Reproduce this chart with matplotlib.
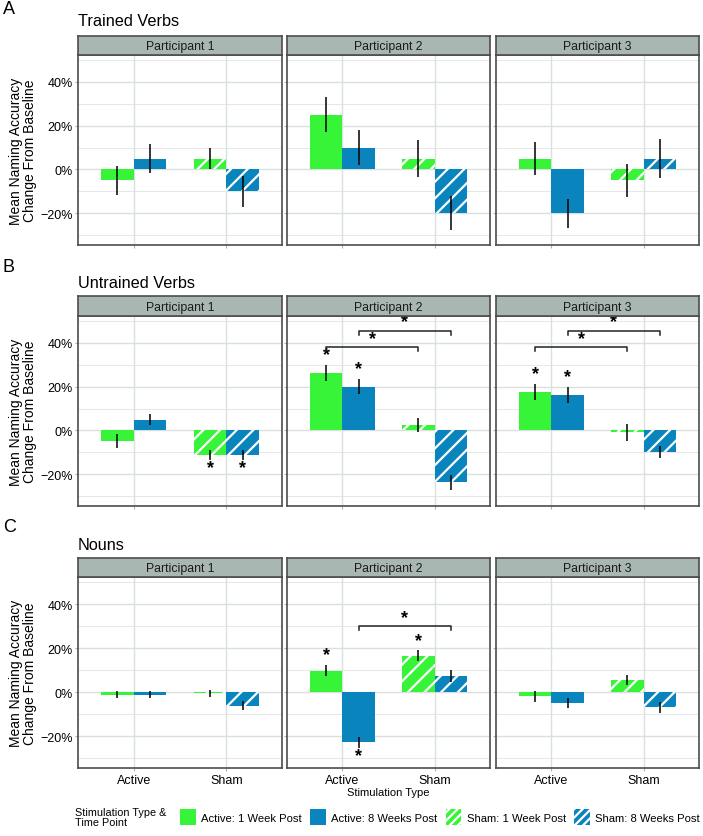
import numpy as np
import matplotlib
matplotlib.use('Agg')
import matplotlib.pyplot as plt
from matplotlib.patches import Patch

plt.rcParams['font.family'] = ['Liberation Sans', 'DejaVu Sans']
plt.rcParams['hatch.linewidth'] = 1.6

# ---- data (percent change from baseline) ----
participants = ['Participant 1', 'Participant 2', 'Participant 3']
stim_types = ['Active', 'Sham']
groups = ['Active: 1 Week Post', 'Active: 8 Weeks Post',
          'Sham: 1 Week Post', 'Sham: 8 Weeks Post']
row_titles = ['Trained Verbs', 'Untrained Verbs', 'Nouns']
row_letters = ['A', 'B', 'C']

# rows = participant, cols = group
trained_mean = [[-5, 5, 5, -10], [25, 10, 5, -20], [5, -20, -5, 5]]
trained_err = [[6.5, 6.5, 5, 7], [8, 8, 8.5, 7.7], [7.5, 6.7, 7.6, 8.7]]
untrained_mean = [[-4.8, 5, -11.2, -11.2], [26.2, 20, 2.5, -23.7], [17.4, 16.2, -0.9, -9.8]]
untrained_err = [[3.4, 2.7, 2.3, 2.3], [3.7, 3.4, 3.4, 3.5], [3.7, 3.6, 3.8, 2.9]]
nouns_mean = [[-1.2, -1.2, -0.6, -6.2], [9.8, -22.8, 16.4, 7.4], [-2, -5, 5.5, -7]]
nouns_err = [[1.7, 1.7, 1.6, 2], [2.7, 2.4, 2.5, 2.7], [2.3, 2.3, 2.4, 2.5]]

means = [trained_mean, untrained_mean, nouns_mean]
errs = [trained_err, untrained_err, nouns_err]

# significant single bars: (row, participant, group)
bar_stars = [(1, 0, 2), (1, 0, 3), (1, 1, 0), (1, 1, 1), (1, 2, 0), (1, 2, 1),
             (2, 1, 0), (2, 1, 1), (2, 1, 2)]
# comparison brackets: (row, participant, group a, group b, height %)
brackets = [(1, 1, 0, 2, 38), (1, 1, 1, 3, 45.5),
            (1, 2, 0, 2, 38), (1, 2, 1, 3, 45.5),
            (2, 1, 1, 3, 30)]

colors = ['#38F438', '#0A84BD', '#38F438', '#0A84BD']
hatches = [None, None, '//', '//']

W, H = 703, 837
fig = plt.figure(figsize=(W / 100, H / 100), dpi=100)

def fx(x):
    return x / W

def fy(y):
    return 1 - y / H

panel_x = [(78, 282), (287, 490), (496, 699)]
row_plot = [(56, 246), (317, 507), (578, 769)]
row_strip = [(37, 56), (297, 317), (559, 578)]
title_y = [22, 283, 545]
letter_y = [9, 267, 528]

grid_col = '#DADFDF'
frame_col = '#4D4D4D'
bw = 0.35

def xpos(g):
    return g // 2 + (-bw / 2 if g % 2 == 0 else bw / 2)

for r in range(3):
    fig.text(fx(3), fy(letter_y[r]), row_letters[r], fontsize=13, va='center', ha='left')
    fig.text(fx(78), fy(title_y[r]), row_titles[r], fontsize=11.7, va='center', ha='left')
    y0, y1 = row_plot[r]
    fig.text(fx(23), fy((y0 + y1) / 2), 'Mean Naming Accuracy\nChange From Baseline',
             rotation=90, fontsize=10, va='center', ha='center', linespacing=1.0)
    for p in range(3):
        x0, x1 = panel_x[p]
        ax = fig.add_axes([fx(x0), fy(y1), fx(x1 - x0), (y1 - y0) / H])
        ax.set_xlim(-0.6, 1.6)
        ax.set_ylim(-34.5, 52.3)
        for v in [-30, -10, 10, 30, 50]:
            ax.axhline(v, color=grid_col, lw=0.5, zorder=0)
        for v in [-20, 0, 20, 40]:
            ax.axhline(v, color=grid_col, lw=1.0, zorder=0)
        for v in [0, 1]:
            ax.axvline(v, color=grid_col, lw=1.0, zorder=0)
        m = means[r][p]
        e = errs[r][p]
        for g in range(4):
            ax.bar(xpos(g), m[g], width=bw, color=colors[g], hatch=hatches[g],
                   edgecolor='white', linewidth=0, zorder=2)
        xs = [xpos(g) for g in range(4)]
        ax.vlines(xs, np.array(m) - np.array(e), np.array(m) + np.array(e),
                  color='black', lw=1.1, zorder=3)
        for (rr, pp, g) in bar_stars:
            if rr == r and pp == p:
                if m[g] >= 0:
                    ax.text(xpos(g), m[g] + e[g] + 0.8, '*', ha='center', va='bottom',
                            fontsize=13, fontweight='bold')
                else:
                    ax.text(xpos(g), m[g] - e[g] - 7.5, '*', ha='center', va='bottom',
                            fontsize=13, fontweight='bold')
        for (rr, pp, a, b, h) in brackets:
            if rr == r and pp == p:
                ax.plot([xpos(a), xpos(a), xpos(b), xpos(b)], [h - 1.8, h, h, h - 1.8],
                        color='#222222', lw=1.1, zorder=3)
                ax.text((xpos(a) + xpos(b)) / 2, h + 0.2, '*', ha='center', va='bottom',
                        fontsize=13, fontweight='bold')
        ax.set_xticks([0, 1])
        ax.set_yticks([-20, 0, 20, 40])
        ax.tick_params(length=2, color='#B0B0B0', labelsize=9, pad=2)
        if r == 2:
            ax.set_xticklabels(stim_types)
        else:
            ax.set_xticklabels([])
        if p == 0:
            ax.set_yticklabels(['\u221220%', '0%', '20%', '40%'])
        else:
            ax.set_yticklabels([])
        for s in ax.spines.values():
            s.set_color(frame_col)
            s.set_linewidth(1.2)
        # strip
        s0, s1 = row_strip[r]
        sax = fig.add_axes([fx(x0), fy(s1), fx(x1 - x0), (s1 - s0) / H])
        sax.set_facecolor('#A9B7B3')
        sax.set_xticks([])
        sax.set_yticks([])
        for s in sax.spines.values():
            s.set_color(frame_col)
            s.set_linewidth(1.2)
        sax.text(0.5, 0.45, participants[p], transform=sax.transAxes,
                 ha='center', va='center', fontsize=8.8, color='#1A1A1A')

fig.text(fx(388), fy(793), 'Stimulation Type', ha='center', va='center', fontsize=8)

fig.text(fx(75), fy(818), 'Stimulation Type &\nTime Point', ha='left', va='center',
         fontsize=7.8, linespacing=1.1)
key_hatches = [None, None, '////', '////']
handles = [Patch(facecolor=colors[g], hatch=key_hatches[g], edgecolor='white', linewidth=0)
           for g in range(4)]
fig.legend(handles, groups, loc='center left', bbox_to_anchor=(fx(180), fy(818)),
           ncol=4, frameon=False, fontsize=8.1, handlelength=1.4, handleheight=1.8,
           handletextpad=0.5, columnspacing=0.7, borderaxespad=0, borderpad=0)

fig.savefig('out.png', dpi=100)
